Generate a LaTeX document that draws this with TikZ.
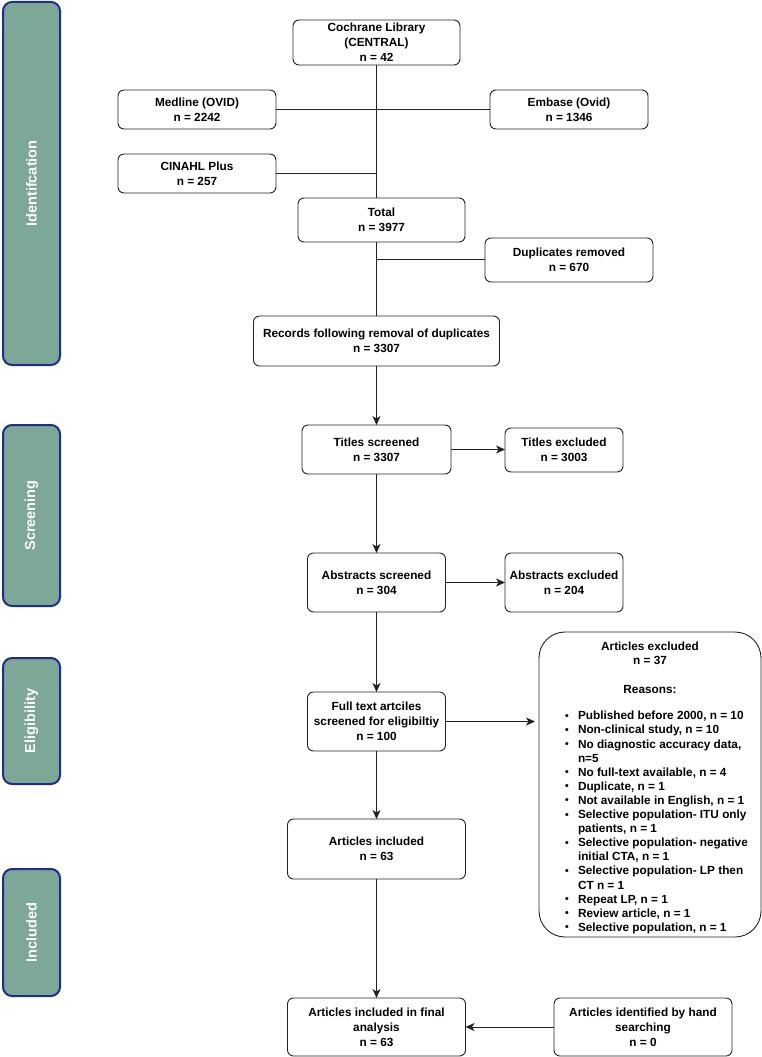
\documentclass[tikz,border=0pt]{standalone}
\usepackage{fontspec}
\setmainfont{Liberation Sans}
\usetikzlibrary{arrows.meta}
\definecolor{barfill}{HTML}{7DA797}
\definecolor{barline}{HTML}{1F2E8C}
\definecolor{lncol}{HTML}{222222}
\newcommand{\bdot}{\raisebox{0.5pt}{\fontsize{10.5}{10.5}\selectfont\textbullet}}
\begin{document}
\begin{tikzpicture}[x=1pt,y=-1pt,
  every node/.style={font=\fontsize{11.8}{14.8}\selectfont\bfseries, inner sep=0pt, outer sep=0pt},
  flowbox/.style={draw=lncol, line width=0.9pt, rounded corners=6pt, align=center, fill=white},
  phasebar/.style={draw=barline, line width=2pt, fill=barfill, rounded corners=9pt, minimum width=57pt},
  phasetext/.style={rotate=90, text=white, font=\fontsize{14.5}{16}\selectfont\bfseries},
  conn/.style={draw=lncol, line width=0.9pt},
  arr/.style={conn, -{Stealth[length=9pt,width=8pt,inset=2.5pt]}}
]
\useasboundingbox (0,0) rectangle (762,1057);
\fill[white] (0,0) rectangle (762,1057);

% phase bars
\node[phasebar, minimum height=363pt] (barid) at (31.5,183.5) {};
\node[phasetext] (txid) at (barid.center) {Identifcation};
\node[phasebar, minimum height=181pt] (barsc) at (31.5,515.5) {};
\node[phasetext] (txsc) at (barsc.center) {Screening};
\node[phasebar, minimum height=126pt] (barel) at (31.5,721) {};
\node[phasetext] (txel) at (barel.center) {Eligibility};
\node[phasebar, minimum height=127pt] (barin) at (31.5,932.5) {};
\node[phasetext] (txin) at (barin.center) {Included};

% boxes
\node[flowbox, minimum width=167pt, minimum height=45pt] (coch) at (376.5,42.5) {Cochrane Library\\(CENTRAL)\\n = 42};
\node[flowbox, minimum width=158pt, minimum height=39pt] (med) at (197,109.5) {Medline (OVID)\\n = 2242};
\node[flowbox, minimum width=158pt, minimum height=39pt] (emb) at (569,109.5) {Embase (Ovid)\\n = 1346};
\node[flowbox, minimum width=158pt, minimum height=39pt] (cin) at (197,173.5) {CINAHL Plus\\n = 257};
\node[flowbox, minimum width=167pt, minimum height=44pt] (tot) at (381.5,220) {Total\\n = 3977};
\node[flowbox, minimum width=168pt, minimum height=44pt] (dup) at (569,260) {Duplicates removed\\n = 670};
\node[flowbox, minimum width=246pt, minimum height=50pt] (rec) at (376.5,341) {Records following removal of duplicates\\n = 3307};
\node[flowbox, minimum width=149pt, minimum height=49pt] (tis) at (376.5,449.5) {Titles screened\\n = 3307};
\node[flowbox, minimum width=118pt, minimum height=44pt] (tie) at (564,450) {Titles excluded\\n = 3003};
\node[flowbox, minimum width=138pt, minimum height=59pt] (abs) at (376.5,582.5) {Abstracts screened\\n = 304};
\node[flowbox, minimum width=118pt, minimum height=59pt] (abe) at (564,582.5) {Abstracts excluded\\n = 204};
\node[flowbox, minimum width=138pt, minimum height=59pt] (ful) at (376.5,721.5) {Full text artciles\\screened for eligibiltiy\\n = 100};
\node[flowbox, minimum width=222pt, minimum height=305pt, rounded corners=26pt] (exc) at (650,784.5) {};
\node[anchor=north, align=center] (exct) at (650,641.5) {Articles excluded\\n = 37\\[13.5pt]Reasons:};
\node[anchor=north west, font=\fontsize{11.8}{14.1}\selectfont\bfseries] (excl) at (565,710) {%
\renewcommand{\arraystretch}{1}%
\begin{tabular}{@{}p{13pt}@{}l@{}}
\bdot & Published before 2000, n = 10\\
\bdot & Non-clinical study, n = 10\\
\bdot & No diagnostic accuracy data,\\
 & n=5\\
\bdot & No full-text available, n = 4\\
\bdot & Duplicate, n = 1\\
\bdot & Not available in English, n = 1\\
\bdot & Selective population- ITU only\\
 & patients, n = 1\\
\bdot & Selective population- negative\\
 & initial CTA, n = 1\\
\bdot & Selective population- LP then\\
 & CT n = 1\\
\bdot & Repeat LP, n = 1\\
\bdot & Review article, n = 1\\
\bdot & Selective population, n = 1
\end{tabular}};
\node[flowbox, minimum width=178pt, minimum height=60pt] (inc) at (376.5,849) {Articles included\\n = 63};
\node[flowbox, minimum width=178pt, minimum height=58pt] (fin) at (376.5,1027) {Articles included in final\\analysis\\n = 63};
\node[flowbox, minimum width=178pt, minimum height=58pt] (hand) at (643,1027) {Articles identified by hand\\searching\\n = 0};

% connectors
\coordinate (spA) at (376.5,109.5);
\coordinate (spB) at (376.5,173.5);
\coordinate (spC) at (376.5,259);
\coordinate (fulend) at (535,721.5);
\draw[conn] (coch.south) -- (coch.south |- tot.north);
\draw[conn] (med.east) -- (spA);
\draw[conn] (emb.west) -- (spA);
\draw[conn] (cin.east) -- (spB);
\draw[conn] (spC |- tot.south) -- (spC |- rec.north);
\draw[conn] (spC) -- (dup.west |- spC);
\draw[arr] (rec.south) -- (tis.north);
\draw[arr] (tis.east) -- (tie.west |- tis.east);
\draw[arr] (tis.south) -- (abs.north);
\draw[arr] (abs.east) -- (abe.west);
\draw[arr] (abs.south) -- (ful.north);
\draw[arr] (ful.east) -- (fulend);
\draw[arr] (ful.south) -- (inc.north);
\draw[arr] (inc.south) -- (fin.north);
\draw[arr] (hand.west) -- (fin.east);
\end{tikzpicture}
\end{document}
